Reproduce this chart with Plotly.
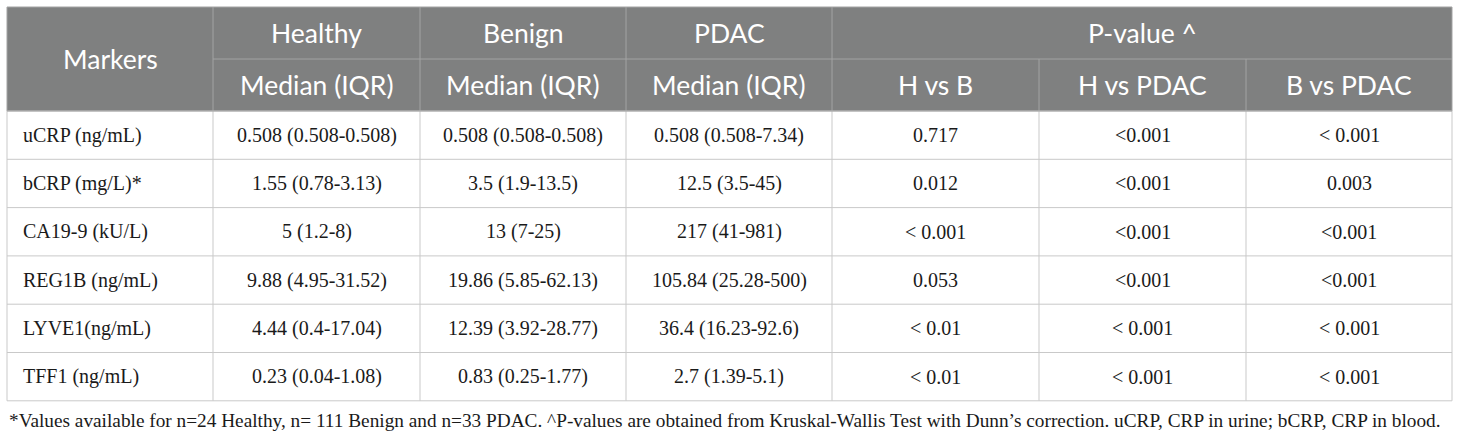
import plotly.graph_objects as go

# table content
markers = ["uCRP (ng/mL)", "bCRP (mg/L)*", "CA19-9 (kU/L)", "REG1B (ng/mL)", "LYVE1(ng/mL)", "TFF1 (ng/mL)"]
healthy = ["0.508 (0.508-0.508)", "1.55 (0.78-3.13)", "5 (1.2-8)", "9.88 (4.95-31.52)", "4.44 (0.4-17.04)", "0.23 (0.04-1.08)"]
benign = ["0.508 (0.508-0.508)", "3.5 (1.9-13.5)", "13 (7-25)", "19.86 (5.85-62.13)", "12.39 (3.92-28.77)", "0.83 (0.25-1.77)"]
pdac = ["0.508 (0.508-7.34)", "12.5 (3.5-45)", "217 (41-981)", "105.84 (25.28-500)", "36.4 (16.23-92.6)", "2.7 (1.39-5.1)"]
p_h_b = ["0.717", "0.012", "< 0.001", "0.053", "< 0.01", "< 0.01"]
p_h_pdac = ["<0.001", "<0.001", "<0.001", "<0.001", "< 0.001", "< 0.001"]
p_b_pdac = ["< 0.001", "0.003", "<0.001", "<0.001", "< 0.001", "< 0.001"]

groups = ["Healthy", "Benign", "PDAC"]
sub_groups = ["Median (IQR)", "Median (IQR)", "Median (IQR)"]
comparisons = ["H vs B", "H vs PDAC", "B vs PDAC"]
footnote = ("*Values available for n=24 Healthy, n= 111 Benign and n=33 PDAC. ^P-values are obtained "
            "from Kruskal-Wallis Test with Dunn\u2019s correction. uCRP, CRP in urine; bCRP, CRP in blood.")

# grid geometry (pixels, y downwards)
x_edges = [7, 213, 420, 626, 832, 1039, 1246, 1452]
y_top, y_mid, y_head = 7, 59, 111
row_h = 48.3
n_rows = len(markers)
y_bottom = y_head + n_rows * row_h

HEAD_BG = "#7f8080"
HEAD_LINE = "#a3a3a3"
BODY_LINE = "#c9c9c9"
SANS = "Lato"
SERIF = "Liberation Serif"
HEAD_SIZE = 26.5
BODY_SIZE = 20

fig = go.Figure()
fig.add_trace(go.Scatter(x=[0, 1460], y=[0, 438], mode="markers", marker=dict(opacity=0), hoverinfo="skip"))

shapes = []
# header background
shapes.append(dict(type="rect", x0=x_edges[0], x1=x_edges[-1], y0=y_top, y1=y_head,
                   fillcolor=HEAD_BG, line=dict(width=0), layer="below"))
# header lines
shapes.append(dict(type="line", x0=x_edges[1], x1=x_edges[-1], y0=y_mid, y1=y_mid, line=dict(color=HEAD_LINE, width=1)))
for i in [1, 2, 3, 4]:
    shapes.append(dict(type="line", x0=x_edges[i], x1=x_edges[i], y0=y_top, y1=y_head, line=dict(color=HEAD_LINE, width=1)))
for i in [5, 6]:
    shapes.append(dict(type="line", x0=x_edges[i], x1=x_edges[i], y0=y_mid, y1=y_head, line=dict(color=HEAD_LINE, width=1)))
# body lines
for r in range(n_rows + 1):
    y = y_head + r * row_h
    shapes.append(dict(type="line", x0=x_edges[0], x1=x_edges[-1], y0=y, y1=y, line=dict(color=BODY_LINE, width=1)))
for i in range(len(x_edges)):
    shapes.append(dict(type="line", x0=x_edges[i], x1=x_edges[i], y0=y_head, y1=y_bottom, line=dict(color=BODY_LINE, width=1)))
# outer header border
shapes.append(dict(type="rect", x0=x_edges[0], x1=x_edges[-1], y0=y_top, y1=y_head,
                   fillcolor="rgba(0,0,0,0)", line=dict(color=HEAD_LINE, width=1)))

ann = []
def cell_text(txt, x, y, font, size, color, align="center"):
    ann.append(dict(x=x, y=y, text=txt, showarrow=False, xanchor=align, yanchor="middle",
                    font=dict(family=font, size=size, color=color)))

mid = lambda i: (x_edges[i] + x_edges[i + 1]) / 2
cell_text("Markers", mid(0), (y_top + y_head) / 2, SANS, HEAD_SIZE, "white")
for j, g in enumerate(groups):
    cell_text(g, mid(j + 1), (y_top + y_mid) / 2, SANS, HEAD_SIZE, "white")
    cell_text(sub_groups[j], mid(j + 1), (y_mid + y_head) / 2, SANS, HEAD_SIZE, "white")
cell_text("P-value ^", (x_edges[4] + x_edges[7]) / 2, (y_top + y_mid) / 2, SANS, HEAD_SIZE, "white")
for j, c in enumerate(comparisons):
    cell_text(c, mid(j + 4), (y_mid + y_head) / 2, SANS, HEAD_SIZE, "white")

columns = [healthy, benign, pdac, p_h_b, p_h_pdac, p_b_pdac]
for r in range(n_rows):
    yc = y_head + (r + 0.5) * row_h
    cell_text(markers[r], x_edges[0] + 14, yc, SERIF, BODY_SIZE, "#1a1a1a", align="left")
    for j, col in enumerate(columns):
        cell_text(col[r], mid(j + 1), yc, SERIF, BODY_SIZE, "#1a1a1a")

cell_text(footnote, x_edges[0], 420, SERIF, 19.3, "#1a1a1a", align="left")

fig.update_layout(
    width=1460, height=438,
    margin=dict(l=0, r=0, t=0, b=0),
    paper_bgcolor="white", plot_bgcolor="white",
    showlegend=False,
    shapes=shapes, annotations=ann,
    xaxis=dict(range=[0, 1460], visible=False, fixedrange=True),
    yaxis=dict(range=[438, 0], visible=False, fixedrange=True),
)
fig.write_html("out.html", config={"displayModeBar": False},
               post_script="document.body.style.margin='0';")
